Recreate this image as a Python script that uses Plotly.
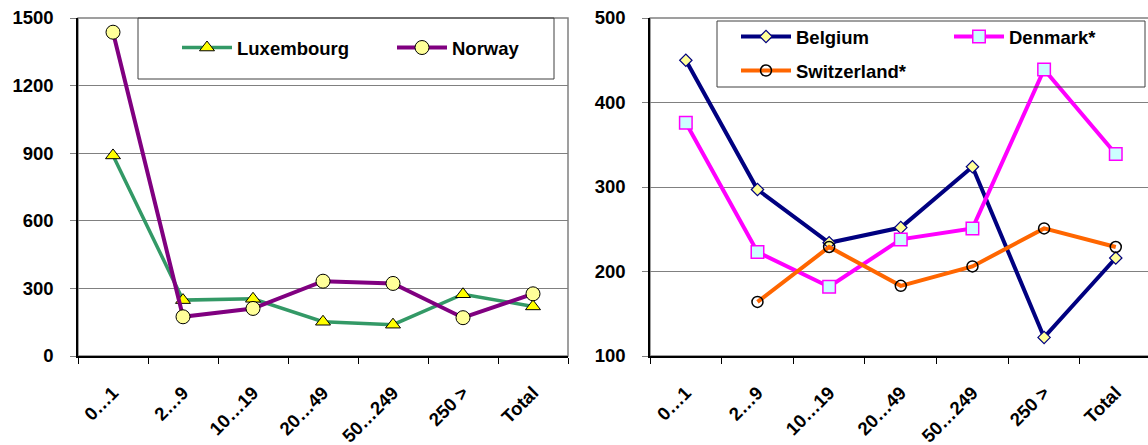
import plotly.graph_objects as go

W, H = 1148, 445

categories = ["0…1", "2…9", "10…19", "20…49", "50…249", "250 >", "Total"]

luxembourg = [890, 248, 254, 152, 139, 274, 220]
norway = [1437, 174, 211, 332, 322, 170, 276]

belgium = [450, 297, 234, 252, 324, 122, 216]
denmark = [376, 223, 182, 238, 251, 439, 339]
switzerland = [None, 164, 229, 183, 206, 251, 229]

FONT = "Arial, Liberation Sans, sans-serif"
bold = dict(family=FONT, size=18.5, color="black", weight=700)


def px_x(v):
    return v / W


def px_y(v):
    return 1 - v / H


fig = go.Figure()

# left chart
fig.add_trace(go.Scatter(
    x=categories, y=luxembourg, name="Luxembourg", mode="lines+markers",
    line=dict(color="#339966", width=3.5),
    marker=dict(symbol="triangle-up", size=13, color="#FFFF00", line=dict(color="black", width=1)),
    xaxis="x", yaxis="y", legend="legend"))
fig.add_trace(go.Scatter(
    x=categories, y=norway, name="Norway", mode="lines+markers",
    line=dict(color="#800080", width=4),
    marker=dict(symbol="circle", size=14, color="#FFFF99", line=dict(color="black", width=1)),
    xaxis="x", yaxis="y", legend="legend"))

# right chart
fig.add_trace(go.Scatter(
    x=categories, y=belgium, name="Belgium", mode="lines+markers",
    line=dict(color="#000080", width=4),
    marker=dict(symbol="diamond", size=9.5, color="#FFFF99", line=dict(color="#000080", width=1.2)),
    xaxis="x2", yaxis="y2", legend="legend2"))
fig.add_trace(go.Scatter(
    x=categories, y=denmark, name="Denmark*", mode="lines+markers",
    line=dict(color="#FF00FF", width=4),
    marker=dict(symbol="square", size=12.5, color="#CCFFFF", line=dict(color="#FF00FF", width=1.5)),
    xaxis="x2", yaxis="y2", legend="legend2"))
fig.add_trace(go.Scatter(
    x=categories, y=switzerland, name="Switzerland*", mode="lines+markers",
    line=dict(color="#FF6600", width=4),
    marker=dict(symbol="circle-open", size=11, color="black", line=dict(color="black", width=1.5)),
    connectgaps=False,
    xaxis="x2", yaxis="y2", legend="legend3"))

xcommon = dict(
    type="category", showgrid=False, zeroline=False,
    showline=True, linecolor="black", linewidth=1.5,
    ticks="outside", tickson="boundaries", ticklen=6, tickcolor="black",
    tickangle=-45, tickfont=bold, ticklabelstandoff=17, automargin=False,
)
ycommon = dict(
    showgrid=True, gridcolor="#808080", gridwidth=1, zeroline=False,
    showline=True, linecolor="black", linewidth=1.5,
    ticks="outside", ticklen=6, tickcolor="#808080",
    tickfont=bold, ticklabelstandoff=13, automargin=False,
)

ydom = [px_y(356), px_y(18)]

legend_common = dict(orientation="h", xanchor="left", yanchor="middle",
                     font=bold, bgcolor="rgba(0,0,0,0)", itemwidth=50)

fig.update_layout(
    width=W, height=H,
    margin=dict(l=0, r=0, t=0, b=0, autoexpand=False),
    paper_bgcolor="white", plot_bgcolor="white",
    xaxis=dict(xcommon, domain=[px_x(78), px_x(568)], range=[-0.5, 6.5], anchor="y"),
    yaxis=dict(ycommon, domain=ydom, range=[0, 1500], dtick=300, anchor="x"),
    xaxis2=dict(xcommon, domain=[px_x(650), 1], range=[-0.5, 6.45], anchor="y2"),
    yaxis2=dict(ycommon, domain=ydom, range=[100, 500], dtick=100, anchor="x2"),
    showlegend=True,
    legend=dict(legend_common, x=px_x(177), y=px_y(48),
                entrywidth=150, entrywidthmode="pixels"),
    legend2=dict(legend_common, x=px_x(736), y=px_y(37),
                 entrywidth=148, entrywidthmode="pixels"),
    legend3=dict(legend_common, x=px_x(736), y=px_y(71)),
    shapes=[
        # grey frame on plot areas
        dict(type="rect", xref="paper", yref="paper", layer="below",
             x0=px_x(78), x1=px_x(568), y0=ydom[0], y1=ydom[1],
             line=dict(color="#808080", width=1.5)),
        dict(type="rect", xref="paper", yref="paper", layer="below",
             x0=px_x(650), x1=px_x(1152), y0=ydom[0], y1=ydom[1],
             line=dict(color="#808080", width=1.5)),
        # legend boxes
        dict(type="rect", xref="paper", yref="paper", layer="above",
             x0=px_x(138), x1=px_x(554), y0=px_y(79), y1=px_y(18),
             line=dict(color="#404040", width=1)),
        dict(type="rect", xref="paper", yref="paper", layer="above",
             x0=px_x(717), x1=px_x(1145), y0=px_y(87), y1=px_y(21),
             line=dict(color="#404040", width=1)),
    ],
)

# page has a default 8px body margin; drop it so the figure sits at the corner
fig.write_html("out.html", config={"displayModeBar": False},
               post_script="document.body.style.margin='0';")
